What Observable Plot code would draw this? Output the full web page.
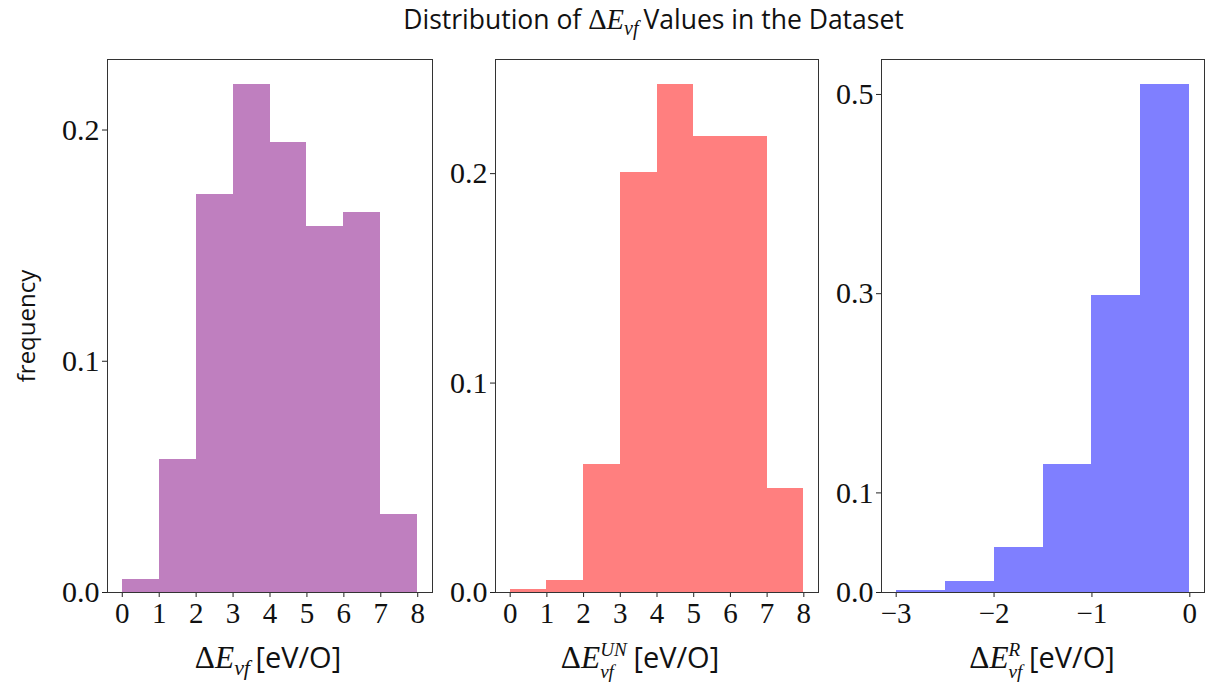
<!DOCTYPE html>
<html>
<head>
<meta charset="utf-8">
<script src="https://cdn.jsdelivr.net/npm/d3@7"></script>
<script src="https://cdn.jsdelivr.net/npm/@observablehq/plot@0.6"></script>
<style>
  html, body { margin: 0; padding: 0; background: #fff; }
  #wrap { position: relative; width: 1214px; height: 694px; overflow: hidden; }
  .panel { position: absolute; top: 0; }
  .title { position: absolute; left: 0; width: 1307px; top: 1px; text-align: center;
           font-family: "Open Sans", Lato, sans-serif; font-size: 26.5px; color: #111; white-space: nowrap; }
  .xlabel { position: absolute; top: 639px; text-align: center; white-space: nowrap; line-height: 1.2;
            font-family: "Open Sans", Lato, sans-serif; font-size: 29px; color: #111; }
  .ylabel { position: absolute; left: 25px; top: 326px; transform: translate(-50%, -50%) rotate(-90deg);
            font-family: "Open Sans", Lato, sans-serif; font-size: 24px; color: #111; white-space: nowrap; }
  .m { font-family: "Liberation Serif", "DejaVu Serif", serif; font-size: 1.08em; }
  .m i { font-style: italic; }
  .sub { font-family: "Liberation Serif", serif; font-style: italic; font-size: 0.7em; position: relative; top: 0.3em; margin-right: 0.25em; }
  .ss { display: inline-block; font-family: "Liberation Serif", serif; font-style: italic;
        font-size: 0.66em; line-height: 1.15; vertical-align: -0.5em; text-align: left; margin-right: 0.35em; }
  .ss > span { display: block; }
</style>
</head>
<body>
<div id="wrap">
  <div class="title">Distribution of <span class="m">Δ<i>E</i><span class="sub">vf</span></span>Values in the Dataset</div>
  <div class="ylabel">frequency</div>
</div>
<script>
// Panel 1: ΔE_vf
const edges1 = [0, 1, 2, 3, 4, 5, 6, 7, 8];
const freq1 = [0.0056, 0.0576, 0.1723, 0.2195, 0.1944, 0.1582, 0.1642, 0.0338];
// Panel 2: ΔE_vf^UN
const edges2 = [0, 1, 2, 3, 4, 5, 6, 7, 8];
const freq2 = [0.0014, 0.0057, 0.0610, 0.2005, 0.2424, 0.2176, 0.2176, 0.0495];
// Panel 3: ΔE_vf^R
const edges3 = [-3, -2.5, -2, -1.5, -1, -0.5, 0];
const freq3 = [0.0025, 0.0115, 0.0455, 0.1285, 0.2985, 0.5096];

const yTicks1 = [0, 0.1, 0.2];
const yTicks2 = [0, 0.1, 0.2];
const yTicks3 = [0, 0.1, 0.3, 0.5];
const xTicks1 = [0, 1, 2, 3, 4, 5, 6, 7, 8];
const xTicks2 = [0, 1, 2, 3, 4, 5, 6, 7, 8];
const xTicks3 = [-3, -2, -1, 0];

const colors = ["#bf7fbf", "#ff7f7f", "#7f7fff"];

function bins(edges, freq) {
  return freq.map((f, i) => ({x1: edges[i], x2: edges[i + 1], y: f}));
}
const minus = d => (d < 0 ? "\u2212" + Math.abs(d) : String(d));

function panel(opts) {
  const {left, width, ml, mr, edges, freq, color, xDomain, yMax, xTicks, yTicks} = opts;
  const p = Plot.plot({
    width, height: 640,
    marginLeft: ml, marginRight: mr, marginTop: 59, marginBottom: 48,
    style: {fontFamily: "'Liberation Serif', 'DejaVu Serif', serif", color: "#111", background: "transparent", overflow: "visible"},
    x: {domain: xDomain, label: null},
    y: {domain: [0, yMax], label: null},
    marks: [
      Plot.rectY(bins(edges, freq), {x1: "x1", x2: "x2", y: "y", fill: color, inset: 0, shapeRendering: "crispEdges"}),
      Plot.axisX({ticks: xTicks, tickFormat: minus, tickSize: 5, tickPadding: 5, fontSize: 29, stroke: "#222", label: null}),
      Plot.axisY({ticks: yTicks, tickFormat: d3.format(".1f"), tickSize: 5, tickPadding: 3, fontSize: 30, stroke: "#222", label: null}),
      Plot.frame({stroke: "#333", strokeWidth: 1})
    ]
  });
  const d = document.createElement("div");
  d.className = "panel";
  d.style.left = left + "px";
  d.appendChild(p);
  document.getElementById("wrap").appendChild(d);
}

panel({left: 0, width: 445, ml: 107, mr: 13, edges: edges1, freq: freq1, color: colors[0],
       xDomain: [-0.4, 8.4], yMax: 0.2305, xTicks: xTicks1, yTicks: yTicks1});
panel({left: 445, width: 385, ml: 50, mr: 12, edges: edges2, freq: freq2, color: colors[1],
       xDomain: [-0.4, 8.4], yMax: 0.2545, xTicks: xTicks2, yTicks: yTicks2});
panel({left: 830, width: 384, ml: 51, mr: 10, edges: edges3, freq: freq3, color: colors[2],
       xDomain: [-3.15, 0.15], yMax: 0.5351, xTicks: xTicks3, yTicks: yTicks3});

// x labels
const labels = [
  {center: 268, html: '<span class="m">Δ<i>E</i><span class="sub">vf</span></span>[eV/O]'},
  {center: 640, html: '<span class="m">Δ<i>E</i></span><span class="ss"><span>UN</span><span>vf</span></span>[eV/O]'},
  {center: 1042, html: '<span class="m">Δ<i>E</i></span><span class="ss"><span>R</span><span>vf</span></span>[eV/O]'}
];
labels.forEach(l => {
  const d = document.createElement("div");
  d.className = "xlabel";
  d.style.left = (l.center - 200) + "px";
  d.style.width = "400px";
  d.innerHTML = l.html;
  document.getElementById("wrap").appendChild(d);
});
</script>
</body>
</html>
